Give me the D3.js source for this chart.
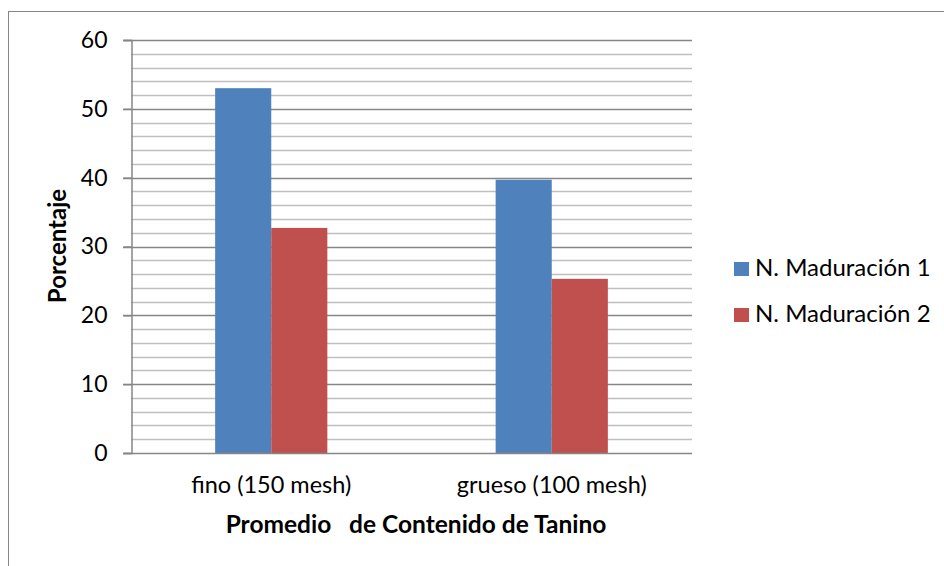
<!DOCTYPE html>
<html>
<head>
<meta charset="utf-8">
<script src="https://cdn.jsdelivr.net/npm/d3@7"></script>
<style>
  body { margin: 0; background: #fff; }
  svg text { font-family: Lato, "Liberation Sans", sans-serif; fill: #000; }
</style>
</head>
<body>
<svg id="chart" width="944" height="566"></svg>
<script>
// data
const categories = ["fino (150 mesh)", "grueso (100 mesh)"];
const seriesNames = ["N. Maduración 1", "N. Maduración 2"];
const maduracion1 = [53.0, 39.7];
const maduracion2 = [32.7, 25.3];
const yTicks = [0, 10, 20, 30, 40, 50, 60];
const colors = ["#4f81bd", "#c0504d"];

const svg = d3.select("#chart");
const plot = {left: 131, right: 692, top: 40, bottom: 453};

// outer chart frame (runs off the right and bottom edges)
svg.append("rect")
  .attr("x", 8.5).attr("y", 11.5)
  .attr("width", 1000).attr("height", 1000)
  .attr("fill", "none")
  .attr("stroke", "#868686")
  .attr("stroke-width", 1);

const y = d3.scaleLinear().domain([0, 60]).range([plot.bottom, plot.top]);
const x0 = d3.scaleBand().domain(categories).range([plot.left, plot.right]);
const x1 = d3.scaleBand().domain(seriesNames)
  .range([0, x0.bandwidth()]).paddingOuter(1.5).paddingInner(0);

// minor gridlines every 2
const minor = d3.range(2, 60, 2).filter(v => v % 10 !== 0);
svg.append("g").selectAll("line").data(minor).join("line")
  .attr("x1", plot.left).attr("x2", plot.right)
  .attr("y1", d => Math.round(y(d)) + 0.5).attr("y2", d => Math.round(y(d)) + 0.5)
  .attr("stroke", "#bfbfbf").attr("stroke-width", 1.5);

// major gridlines
svg.append("g").selectAll("line").data(yTicks.filter(d => d > 0)).join("line")
  .attr("x1", plot.left - 8).attr("x2", plot.right)
  .attr("y1", d => Math.round(y(d)) + 0.5).attr("y2", d => Math.round(y(d)) + 0.5)
  .attr("stroke", "#868686").attr("stroke-width", 1.5);

// bars
const rows = categories.map((c, i) => ({cat: c, vals: [maduracion1[i], maduracion2[i]]}));
const groups = svg.append("g").selectAll("g").data(rows).join("g")
  .attr("transform", d => `translate(${x0(d.cat)},0)`);
groups.selectAll("rect")
  .data(d => d.vals.map((v, j) => ({name: seriesNames[j], v, j})))
  .join("rect")
  .attr("x", d => x1(d.name))
  .attr("width", x1.bandwidth())
  .attr("y", d => y(d.v))
  .attr("height", d => y(0) - y(d.v))
  .attr("fill", d => colors[d.j]);

// y axis
const yAxis = svg.append("g")
  .attr("transform", `translate(${plot.left + 0.5},0)`)
  .call(d3.axisLeft(y).tickValues(yTicks).tickSize(8).tickPadding(16));
yAxis.select(".domain").attr("stroke", "#868686").attr("stroke-width", 1.5);
yAxis.selectAll(".tick line").attr("stroke", "#868686").attr("stroke-width", 1.5);
yAxis.selectAll("text").attr("font-size", 23).attr("font-family", "Lato, sans-serif").attr("fill", "#000");

// x axis baseline
svg.append("line")
  .attr("x1", plot.left - 8).attr("x2", plot.right)
  .attr("y1", plot.bottom + 0.5).attr("y2", plot.bottom + 0.5)
  .attr("stroke", "#868686").attr("stroke-width", 1.5);

// category labels
svg.append("g").selectAll("text").data(categories).join("text")
  .attr("x", d => x0(d) + x0.bandwidth() / 2)
  .attr("y", 493)
  .attr("text-anchor", "middle")
  .attr("font-size", 23.5)
  .text(d => d);

// axis titles
svg.append("text")
  .attr("x", 416).attr("y", 533)
  .attr("text-anchor", "middle")
  .attr("font-size", 24.5).attr("font-weight", "bold")
  .style("white-space", "pre")
  .text("Promedio   de Contenido de Tanino");

svg.append("text")
  .attr("transform", "translate(66,246) rotate(-90)")
  .attr("text-anchor", "middle")
  .attr("font-size", 24).attr("font-weight", "bold")
  .text("Porcentaje");

// legend
const legend = svg.append("g").selectAll("g").data(seriesNames).join("g")
  .attr("transform", (d, i) => `translate(734,${262 + i * 46})`);
legend.append("rect")
  .attr("width", 15).attr("height", 14)
  .attr("fill", (d, i) => colors[i]);
legend.append("text")
  .attr("x", 21).attr("y", 14)
  .attr("font-size", 24)
  .text(d => d);
</script>
</body>
</html>
